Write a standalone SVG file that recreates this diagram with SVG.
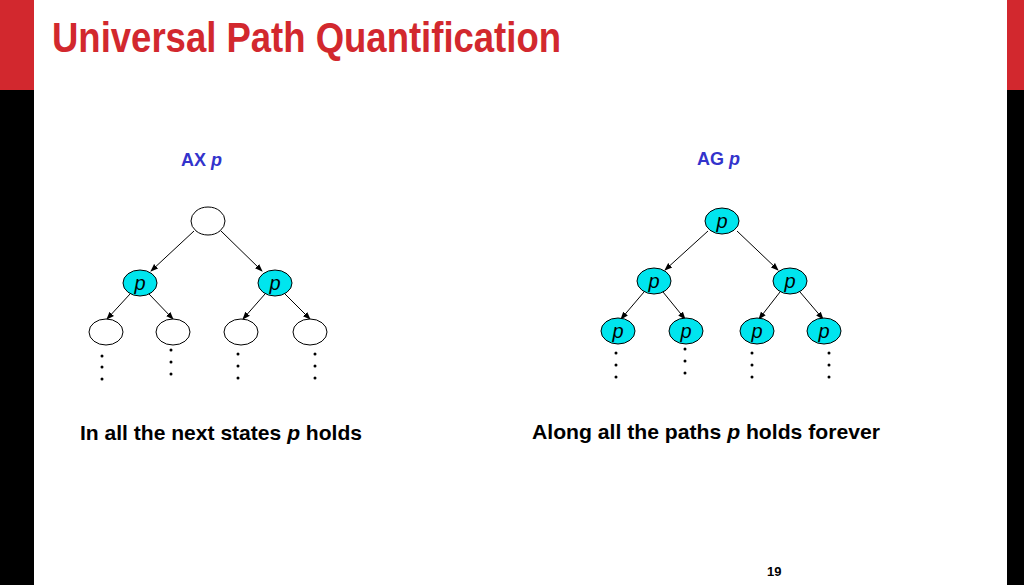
<svg xmlns="http://www.w3.org/2000/svg" width="1024" height="585" viewBox="0 0 1024 585">
<style>
.n{stroke:#000;stroke-width:1;fill:#fff}
.c{fill:#00e5ee}
.e{stroke:#000;stroke-width:1;fill:none;marker-end:url(#a)}
.p{font-family:"Liberation Sans",Arial,sans-serif;font-style:italic;font-size:20px;text-anchor:middle}
.h{font-family:"Liberation Sans",Arial,sans-serif;font-weight:bold;font-size:18px;fill:#3333cc}
.cap{font-family:"Liberation Sans",Arial,sans-serif;font-weight:bold;font-size:21px}
.d{fill:#000}
</style>
<defs><marker id="a" markerWidth="8" markerHeight="8" refX="7" refY="4" orient="auto" markerUnits="userSpaceOnUse"><path d="M0,1 L8,4 L0,7 Z"/></marker></defs>
<rect width="1024" height="585" fill="#fff"/>
<rect x="0" y="0" width="34" height="90" fill="#d2282e"/>
<rect x="0" y="90" width="34" height="495" fill="#000"/>
<rect x="1007" y="0" width="17" height="90" fill="#d2282e"/>
<rect x="1007" y="90" width="17" height="495" fill="#000"/>
<text x="52" y="52" font-family="Liberation Sans,Arial,sans-serif" font-weight="bold" font-size="42" fill="#d2282e" textLength="509" lengthAdjust="spacingAndGlyphs">Universal Path Quantification</text>
<text x="181" y="166" class="h">AX <tspan font-style="italic">p</tspan></text>
<text x="697" y="165" class="h">AG <tspan font-style="italic">p</tspan></text>
<g id="edges">
<line class="e" x1="194" y1="231" x2="151" y2="271"/>
<line class="e" x1="221" y1="231" x2="262" y2="271"/>
<line class="e" x1="130" y1="294" x2="107" y2="319"/>
<line class="e" x1="149" y1="294" x2="173" y2="319"/>
<line class="e" x1="265" y1="294" x2="243" y2="319"/>
<line class="e" x1="285" y1="294" x2="310" y2="319"/>
<line class="e" x1="708" y1="231" x2="665" y2="270"/>
<line class="e" x1="737" y1="231" x2="778" y2="270"/>
<line class="e" x1="644" y1="292" x2="621" y2="319"/>
<line class="e" x1="663" y1="292" x2="685" y2="319"/>
<line class="e" x1="780" y1="292" x2="759" y2="319"/>
<line class="e" x1="800" y1="292" x2="823" y2="319"/>
</g>
<g id="left-root"><ellipse class="n" cx="208" cy="221" rx="17" ry="14"/></g>
<g id="left-l"><ellipse class="n c" cx="140" cy="283" rx="17" ry="13"/><text class="p" x="140" y="290">p</text></g>
<g id="left-r"><ellipse class="n c" cx="275" cy="283" rx="17" ry="13"/><text class="p" x="275" y="290">p</text></g>
<g id="left-ll"><ellipse class="n" cx="106" cy="332" rx="17" ry="13"/></g>
<g id="left-lr"><ellipse class="n" cx="173" cy="332" rx="17" ry="13"/></g>
<g id="left-rl"><ellipse class="n" cx="241" cy="332" rx="17" ry="13"/></g>
<g id="left-rr"><ellipse class="n" cx="310" cy="332" rx="17" ry="13"/></g>
<g id="right-root"><ellipse class="n c" cx="722" cy="221" rx="17" ry="13"/><text class="p" x="722" y="228">p</text></g>
<g id="right-l"><ellipse class="n c" cx="654" cy="281" rx="17" ry="13"/><text class="p" x="654" y="288">p</text></g>
<g id="right-r"><ellipse class="n c" cx="790" cy="281" rx="17" ry="13"/><text class="p" x="790" y="288">p</text></g>
<g id="right-ll"><ellipse class="n c" cx="618" cy="331" rx="17" ry="13"/><text class="p" x="618" y="338">p</text></g>
<g id="right-lr"><ellipse class="n c" cx="686" cy="331" rx="17" ry="13"/><text class="p" x="686" y="338">p</text></g>
<g id="right-rl"><ellipse class="n c" cx="757" cy="331" rx="17" ry="13"/><text class="p" x="757" y="338">p</text></g>
<g id="right-rr"><ellipse class="n c" cx="824" cy="331" rx="17" ry="13"/><text class="p" x="824" y="338">p</text></g>
<g id="dots">
<circle class="d" cx="102" cy="356" r="1.5"/><circle class="d" cx="102" cy="367" r="1.5"/><circle class="d" cx="102" cy="379" r="1.5"/>
<circle class="d" cx="171" cy="350" r="1.5"/><circle class="d" cx="171" cy="362" r="1.5"/><circle class="d" cx="171" cy="374" r="1.5"/>
<circle class="d" cx="238" cy="354" r="1.5"/><circle class="d" cx="238" cy="366" r="1.5"/><circle class="d" cx="238" cy="378" r="1.5"/>
<circle class="d" cx="315" cy="354" r="1.5"/><circle class="d" cx="315" cy="366" r="1.5"/><circle class="d" cx="315" cy="378" r="1.5"/>
<circle class="d" cx="616" cy="353" r="1.5"/><circle class="d" cx="616" cy="365" r="1.5"/><circle class="d" cx="616" cy="377" r="1.5"/>
<circle class="d" cx="685" cy="349" r="1.5"/><circle class="d" cx="685" cy="361" r="1.5"/><circle class="d" cx="685" cy="373" r="1.5"/>
<circle class="d" cx="752" cy="353" r="1.5"/><circle class="d" cx="752" cy="365" r="1.5"/><circle class="d" cx="752" cy="377" r="1.5"/>
<circle class="d" cx="829" cy="353" r="1.5"/><circle class="d" cx="829" cy="365" r="1.5"/><circle class="d" cx="829" cy="377" r="1.5"/>
</g>
<text class="cap" x="80" y="440" textLength="282" lengthAdjust="spacingAndGlyphs">In all the next states <tspan font-style="italic">p</tspan> holds</text>
<text class="cap" x="532" y="439" textLength="348" lengthAdjust="spacingAndGlyphs">Along all the paths <tspan font-style="italic">p</tspan> holds forever</text>
<text x="767" y="576" font-family="Liberation Sans,Arial,sans-serif" font-weight="bold" font-size="13">19</text>
</svg>
